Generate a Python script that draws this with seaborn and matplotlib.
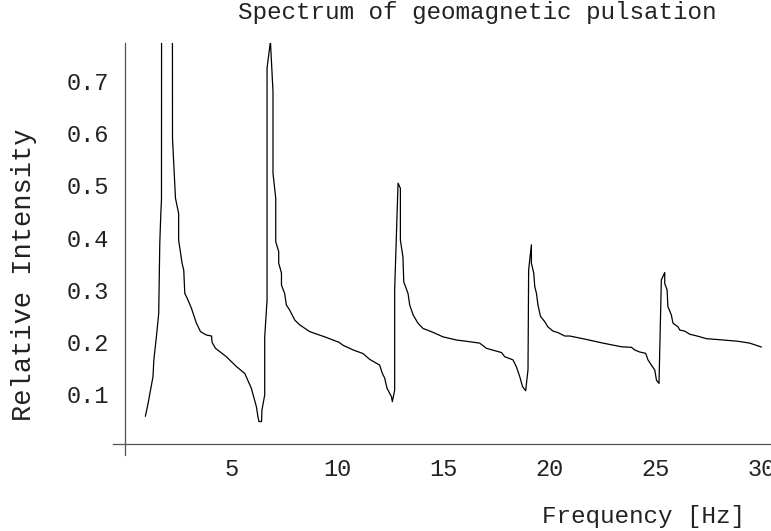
import numpy as np
import pandas as pd
import matplotlib
matplotlib.use("Agg")
import matplotlib.pyplot as plt
from matplotlib.ticker import MultipleLocator, FixedLocator
import seaborn as sns

# traced spectrum (frequency in Hz, relative intensity)
freq = [0.94, 1.07, 1.30, 1.34, 1.46, 1.57, 1.62, 1.67, 1.70, 1.71, 2.21, 2.22,
        2.36, 2.51, 2.51, 2.67, 2.75, 2.80, 2.91, 3.11, 3.35, 3.54, 3.82, 4.06,
        4.09, 4.25, 4.76, 5.24, 5.63, 5.94, 6.18, 6.25, 6.30, 6.42, 6.44, 6.57,
        6.57, 6.68, 6.68, 6.84, 6.96, 6.96, 7.09, 7.09, 7.23, 7.23, 7.36, 7.36,
        7.51, 7.59, 7.75, 7.99, 8.22, 8.69, 9.40, 10.08, 10.26, 10.74, 11.21,
        11.52, 11.99, 12.12, 12.23, 12.34, 12.55, 12.59, 12.70, 12.70, 12.86,
        12.97, 12.97, 13.09, 13.13, 13.33, 13.41, 13.57, 13.80, 14.04, 14.43,
        14.98, 15.61, 16.24, 16.71, 17.03, 17.74, 17.89, 18.28, 18.44, 18.60,
        18.73, 18.88, 18.99, 19.02, 19.15, 19.15, 19.26, 19.31, 19.39, 19.46,
        19.58, 19.78, 19.93, 20.17, 20.41, 20.72, 20.96, 21.75, 22.53, 23.40,
        23.87, 24.02, 24.26, 24.54, 24.65, 24.81, 24.97, 25.05, 25.17, 25.28,
        25.44, 25.44, 25.55, 25.59, 25.75, 25.83, 26.07, 26.15, 26.38, 26.62,
        26.93, 27.41, 28.19, 28.90, 29.45, 30.0]
intensity = [0.058, 0.083, 0.134, 0.166, 0.210, 0.255, 0.389, 0.447, 0.472, 1.2, 1.2, 0.59,
             0.475, 0.446, 0.395, 0.351, 0.338, 0.293, 0.284, 0.265, 0.236, 0.220, 0.2135, 0.2116,
             0.199, 0.188, 0.172, 0.153, 0.140, 0.1115, 0.076, 0.057, 0.048, 0.048, 0.070, 0.099,
             0.210, 0.280, 0.724, 0.775, 0.679, 0.523, 0.475, 0.392, 0.373, 0.351, 0.332, 0.309,
             0.293, 0.271, 0.261, 0.242, 0.233, 0.220, 0.210, 0.1995, 0.194, 0.185, 0.178,
             0.167, 0.156, 0.140, 0.131, 0.1115, 0.0955, 0.086, 0.108, 0.300, 0.504,
             0.494, 0.395, 0.363, 0.315, 0.293, 0.271, 0.252, 0.236, 0.226, 0.220,
             0.210, 0.204, 0.2007, 0.198, 0.188, 0.180, 0.172, 0.166, 0.153, 0.134,
             0.115, 0.107, 0.147, 0.338, 0.386, 0.351, 0.332, 0.306, 0.293, 0.271,
             0.249, 0.239, 0.229, 0.221, 0.218, 0.2116, 0.2116, 0.205, 0.198, 0.191,
             0.190, 0.185, 0.181, 0.1785, 0.166, 0.156, 0.1465, 0.127, 0.121, 0.319,
             0.333, 0.312, 0.300, 0.268, 0.252, 0.236, 0.229, 0.223, 0.221, 0.215,
             0.212, 0.2065, 0.204, 0.2015, 0.198, 0.1905]

df = pd.DataFrame({"Frequency": freq, "Intensity": intensity})

sns.set_style("white")
plt.rcParams["font.family"] = ["Liberation Mono", "DejaVu Sans Mono"]

fig = plt.figure(figsize=(7.71, 5.31), dpi=100)
ax = fig.add_axes([0.1462, 0.1431, 0.8551, 0.7759])

sns.lineplot(data=df, x="Frequency", y="Intensity", sort=False, estimator=None,
             color="black", linewidth=0.9, ax=ax)

ax.set_xlim(-0.6, 30.5)
ax.set_ylim(-0.016, 0.772)

# Mathematica-like crossing axes
ax.spines["top"].set_visible(False)
ax.spines["right"].set_visible(False)
ax.spines["left"].set_position(("data", 0))
ax.spines["bottom"].set_position(("data", 0.0044))
for s in ["left", "bottom"]:
    ax.spines[s].set_color("#555555")
    ax.spines[s].set_linewidth(0.9)

ax.xaxis.set_major_locator(FixedLocator([5, 10, 15, 20, 25, 30]))
ax.xaxis.set_minor_locator(MultipleLocator(1))
ax.yaxis.set_major_locator(FixedLocator([0.1, 0.2, 0.3, 0.4, 0.5, 0.6, 0.7]))
ax.yaxis.set_minor_locator(FixedLocator(np.arange(0.02, 0.77, 0.02)))
ax.set_xticklabels(["5", "10", "15", "20", "25", "30"])
ax.set_yticklabels(["0.1", "0.2", "0.3", "0.4", "0.5", "0.6", "0.7"])

ax.tick_params(which="major", direction="in", length=4.5, width=0.8, color="#555555",
               labelsize=17, labelcolor="#222222")
ax.tick_params(which="minor", direction="in", length=2.2, width=0.7, color="#555555")
ax.tick_params(axis="x", which="major", pad=10)
ax.tick_params(axis="y", which="major", pad=12)

ax.set_xlabel("")
ax.set_ylabel("")

fig.text(477 / 771, 1 - 13 / 531, "Spectrum of geomagnetic pulsation",
         ha="center", va="center", fontsize=17.5, color="#222222")
fig.text(745 / 771, 1 - 516 / 531, "Frequency [Hz]",
         ha="right", va="center", fontsize=17.5, color="#222222")
fig.text(24 / 771, 1 - 275 / 531, "Relative Intensity", rotation=90,
         ha="center", va="center", fontsize=19.5, color="#222222")

fig.savefig("out.png", dpi=100)
